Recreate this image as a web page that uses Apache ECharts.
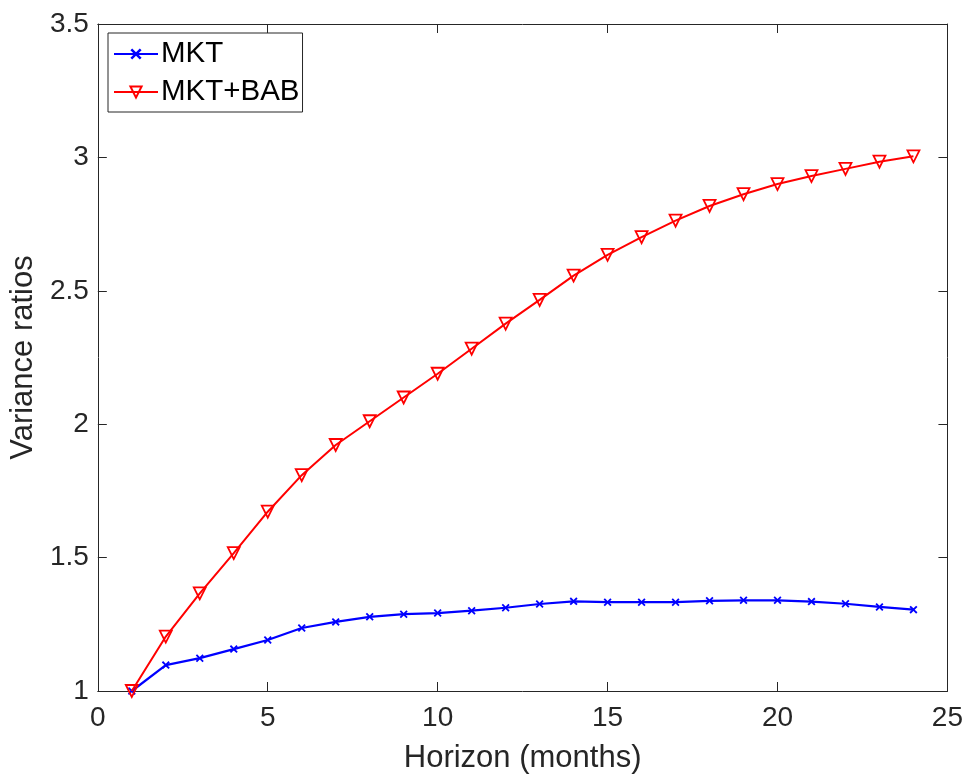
<!DOCTYPE html>
<html>
<head>
<meta charset="utf-8">
<script src="https://cdn.jsdelivr.net/npm/echarts@6/dist/echarts.min.js"></script>
<style>html,body{margin:0;padding:0;background:#fff}#c{width:966px;height:779px}</style>
</head>
<body>
<div id="c"></div>
<script>
const horizons = [1,2,3,4,5,6,7,8,9,10,11,12,13,14,15,16,17,18,19,20,21,22,23,24];
const mkt = [1.000,1.097,1.123,1.157,1.191,1.236,1.259,1.278,1.288,1.292,1.301,1.312,1.326,1.336,1.333,1.333,1.333,1.338,1.340,1.340,1.335,1.327,1.315,1.305];
const mktBab = [1.000,1.204,1.366,1.517,1.672,1.809,1.922,2.011,2.100,2.189,2.283,2.377,2.466,2.557,2.635,2.701,2.763,2.818,2.862,2.900,2.930,2.957,2.984,3.004];
const seriesNames = ['MKT','MKT+BAB'];
const xTitle = 'Horizon (months)';
const yTitle = 'Variance ratios';

const FONT = 'Liberation Sans';
const AX = '#262626';
const crossPath = 'path://M0,1.6 L1.6,0 L5,3.4 L8.4,0 L10,1.6 L6.6,5 L10,8.4 L8.4,10 L5,6.6 L1.6,10 L0,8.4 L3.4,5 Z';

const chart = echarts.init(document.getElementById('c'), null, {renderer:'canvas'});
const axisCommon = {
  type:'value',
  axisLine:{show:true, onZero:false, lineStyle:{color:AX, width:1}},
  axisTick:{show:true, inside:true, length:9, lineStyle:{color:AX, width:1}},
  splitLine:{show:false}
};
chart.setOption({
  animation:false,
  backgroundColor:'#fff',
  textStyle:{fontFamily:FONT},
  grid:{left:97, right:18, top:24, bottom:85, containLabel:false},
  legend:{
    orient:'vertical', left:108, top:33,
    padding:[6,3,5,5], itemGap:8, itemWidth:44, itemHeight:14,
    borderColor:AX, borderWidth:1, backgroundColor:'#fff',
    textStyle:{fontFamily:FONT, fontSize:29.5, color:'#000', padding:[0,0,0,-2]},
    data:seriesNames
  },
  xAxis:[
    Object.assign({}, axisCommon, {min:0, max:25, interval:5, position:'bottom',
      name:xTitle, nameLocation:'middle', nameGap:52,
      nameTextStyle:{fontFamily:FONT, fontSize:31, color:AX},
      axisLabel:{fontFamily:FONT, fontSize:28, color:AX, margin:13}}),
    Object.assign({}, axisCommon, {min:0, max:25, interval:5, position:'top',
      axisLabel:{show:false}})
  ],
  yAxis:[
    Object.assign({}, axisCommon, {min:1, max:3.5, interval:0.5, position:'left',
      name:yTitle, nameLocation:'middle', nameGap:56,
      nameTextStyle:{fontFamily:FONT, fontSize:31, color:AX},
      axisLabel:{fontFamily:FONT, fontSize:28, color:AX, margin:9}}),
    Object.assign({}, axisCommon, {min:1, max:3.5, interval:0.5, position:'right',
      axisLabel:{show:false}})
  ],
  series:[
    {
      name:seriesNames[0], type:'line',
      data:horizons.map((h,i)=>[h, mkt[i]]),
      lineStyle:{color:'#0000ff', width:2.2},
      itemStyle:{color:'#0000ff'},
      symbol:crossPath, symbolSize:8, showAllSymbol:true, z:3
    },
    {
      name:seriesNames[1], type:'line',
      data:horizons.map((h,i)=>[h, mktBab[i]]),
      lineStyle:{color:'#ff0000', width:2},
      itemStyle:{color:'rgba(255,255,255,0)', borderColor:'#ff0000', borderWidth:1.8},
      symbol:'triangle', symbolRotate:180, symbolSize:12, showAllSymbol:true, z:4
    }
  ]
});
</script>
</body>
</html>
